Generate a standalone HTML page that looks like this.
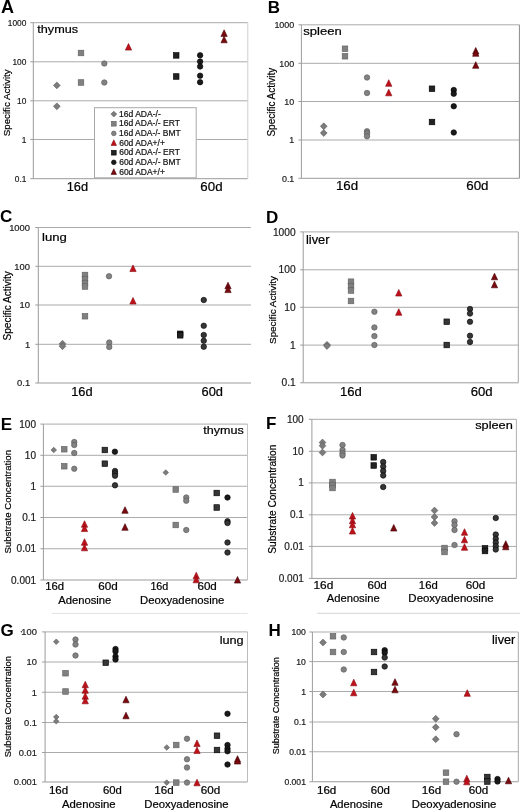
<!DOCTYPE html>
<html><head><meta charset="utf-8"><title>Figure</title>
<style>
html,body{margin:0;padding:0;background:#fff;}
body{width:520px;height:811px;overflow:hidden;}
svg{display:block;font-family:"Liberation Sans", sans-serif;filter:blur(0.3px);}
text{stroke-width:0.2px;}
</style></head><body>
<svg width="520" height="811" viewBox="0 0 520 811">
<rect width="520" height="811" fill="#fff"/>
<text transform="translate(0.93,12.70) scale(1.000,1)" font-size="18" font-weight="bold" fill="#000">A</text>
<line x1="33.3" y1="22.7" x2="247.8" y2="22.7" stroke="#ababab" stroke-width="1"/>
<line x1="30.299999999999997" y1="22.7" x2="33.3" y2="22.7" stroke="#9c9c9c" stroke-width="1"/>
<line x1="33.3" y1="61.8" x2="247.8" y2="61.8" stroke="#ababab" stroke-width="1"/>
<line x1="30.299999999999997" y1="61.8" x2="33.3" y2="61.8" stroke="#9c9c9c" stroke-width="1"/>
<line x1="33.3" y1="100.8" x2="247.8" y2="100.8" stroke="#ababab" stroke-width="1"/>
<line x1="30.299999999999997" y1="100.8" x2="33.3" y2="100.8" stroke="#9c9c9c" stroke-width="1"/>
<line x1="33.3" y1="139.5" x2="247.8" y2="139.5" stroke="#ababab" stroke-width="1"/>
<line x1="30.299999999999997" y1="139.5" x2="33.3" y2="139.5" stroke="#9c9c9c" stroke-width="1"/>
<line x1="33.3" y1="178.7" x2="247.8" y2="178.7" stroke="#9c9c9c" stroke-width="1"/>
<line x1="30.299999999999997" y1="178.7" x2="33.3" y2="178.7" stroke="#9c9c9c" stroke-width="1"/>
<line x1="33.3" y1="22.7" x2="33.3" y2="178.7" stroke="#9c9c9c" stroke-width="1"/>
<line x1="247.8" y1="22.7" x2="247.8" y2="178.7" stroke="#cfcfcf" stroke-width="1"/>
<text transform="translate(7.80,25.99) scale(0.900,1)" font-size="9.3" fill="#1a1a1a" stroke="#1a1a1a">1000</text>
<text transform="translate(12.46,65.09) scale(0.900,1)" font-size="9.3" fill="#1a1a1a" stroke="#1a1a1a">100</text>
<text transform="translate(17.11,104.09) scale(0.900,1)" font-size="9.3" fill="#1a1a1a" stroke="#1a1a1a">10</text>
<text transform="translate(21.85,142.79) scale(0.900,1)" font-size="9.3" fill="#1a1a1a" stroke="#1a1a1a">1</text>
<text transform="translate(14.87,181.99) scale(0.900,1)" font-size="9.3" fill="#1a1a1a" stroke="#1a1a1a">0.1</text>
<text transform="translate(37.20,33.00) scale(1.095,1)" font-size="11.6" fill="#000" stroke="#000">thymus</text>
<text transform="translate(66.73,191.00) scale(1.034,1)" font-size="12.4" fill="#000" stroke="#000">16d</text>
<text transform="translate(200.33,191.00) scale(1.074,1)" font-size="12.4" fill="#000" stroke="#000">60d</text>
<text transform="translate(9.80,136.25) rotate(-90) scale(1.035,1)" font-size="9.4" fill="#000" stroke="#000">Specific Activity</text>
<polygon points="56.85,82.00 60.25,85.40 56.85,88.80 53.45,85.40" fill="#7c7c7c" stroke="#5a5a5a" stroke-width="0.6"/>
<polygon points="56.85,102.90 60.25,106.30 56.85,109.70 53.45,106.30" fill="#7c7c7c" stroke="#5a5a5a" stroke-width="0.6"/>
<rect x="78.20" y="50.20" width="5.60" height="5.60" fill="#808080" stroke="#5e5e5e" stroke-width="0.6"/>
<rect x="78.20" y="79.70" width="5.60" height="5.60" fill="#808080" stroke="#5e5e5e" stroke-width="0.6"/>
<circle cx="104.30" cy="63.50" r="2.75" fill="#828282" stroke="#565656" stroke-width="0.6"/>
<circle cx="104.30" cy="82.50" r="2.75" fill="#828282" stroke="#565656" stroke-width="0.6"/>
<polygon points="128.50,43.50 131.65,50.10 125.35,50.10" fill="#c0111b" stroke="#860a0f" stroke-width="0.6"/>
<rect x="173.40" y="52.60" width="5.60" height="5.60" fill="#222222" stroke="#000000" stroke-width="0.6"/>
<rect x="173.40" y="73.70" width="5.60" height="5.60" fill="#222222" stroke="#000000" stroke-width="0.6"/>
<circle cx="200.10" cy="55.30" r="2.75" fill="#1a1a1a" stroke="#000000" stroke-width="0.6"/>
<circle cx="200.10" cy="61.50" r="2.75" fill="#1a1a1a" stroke="#000000" stroke-width="0.6"/>
<circle cx="200.10" cy="66.50" r="2.75" fill="#1a1a1a" stroke="#000000" stroke-width="0.6"/>
<circle cx="200.10" cy="75.70" r="2.75" fill="#1a1a1a" stroke="#000000" stroke-width="0.6"/>
<circle cx="200.10" cy="82.20" r="2.75" fill="#1a1a1a" stroke="#000000" stroke-width="0.6"/>
<polygon points="224.10,29.80 227.25,36.40 220.95,36.40" fill="#7a0a10" stroke="#450004" stroke-width="0.6"/>
<polygon points="224.10,36.20 227.25,42.80 220.95,42.80" fill="#7a0a10" stroke="#450004" stroke-width="0.6"/>
<rect x="94.5" y="107.7" width="101.7" height="70.1" fill="#fff" stroke="#a8a8a8" stroke-width="1"/>
<polygon points="113.80,111.21 116.69,114.10 113.80,116.99 110.91,114.10" fill="#7c7c7c" stroke="#5a5a5a" stroke-width="0.6"/>
<text transform="translate(118.95,116.80) scale(0.997,1)" font-size="8.6" fill="#111" stroke="#111">16d ADA-/-</text>
<rect x="111.42" y="121.37" width="4.76" height="4.76" fill="#808080" stroke="#5e5e5e" stroke-width="0.6"/>
<text transform="translate(118.95,126.45) scale(0.993,1)" font-size="8.6" fill="#111" stroke="#111">16d ADA-/- ERT</text>
<circle cx="113.80" cy="133.40" r="2.34" fill="#828282" stroke="#565656" stroke-width="0.6"/>
<text transform="translate(118.95,136.10) scale(0.988,1)" font-size="8.6" fill="#111" stroke="#111">16d ADA-/- BMT</text>
<polygon points="113.80,139.82 116.48,145.43 111.12,145.43" fill="#c0111b" stroke="#860a0f" stroke-width="0.6"/>
<text transform="translate(119.18,145.75) scale(0.986,1)" font-size="8.6" fill="#111" stroke="#111">60d ADA+/+</text>
<rect x="111.42" y="150.32" width="4.76" height="4.76" fill="#222222" stroke="#000000" stroke-width="0.6"/>
<text transform="translate(119.17,155.40) scale(0.989,1)" font-size="8.6" fill="#111" stroke="#111">60d ADA-/- ERT</text>
<circle cx="113.80" cy="162.35" r="2.34" fill="#1a1a1a" stroke="#000000" stroke-width="0.6"/>
<text transform="translate(119.18,165.05) scale(0.984,1)" font-size="8.6" fill="#111" stroke="#111">60d ADA-/- BMT</text>
<polygon points="113.80,168.77 116.48,174.38 111.12,174.38" fill="#7a0a10" stroke="#450004" stroke-width="0.6"/>
<text transform="translate(119.18,174.70) scale(0.986,1)" font-size="8.6" fill="#111" stroke="#111">60d ADA+/+</text>
<text transform="translate(267.78,12.75) scale(1.000,1)" font-size="17" font-weight="bold" fill="#000">B</text>
<line x1="301.4" y1="24.8" x2="519.4" y2="24.8" stroke="#ababab" stroke-width="1"/>
<line x1="298.4" y1="24.8" x2="301.4" y2="24.8" stroke="#9c9c9c" stroke-width="1"/>
<line x1="301.4" y1="63.3" x2="519.4" y2="63.3" stroke="#ababab" stroke-width="1"/>
<line x1="298.4" y1="63.3" x2="301.4" y2="63.3" stroke="#9c9c9c" stroke-width="1"/>
<line x1="301.4" y1="101.5" x2="519.4" y2="101.5" stroke="#ababab" stroke-width="1"/>
<line x1="298.4" y1="101.5" x2="301.4" y2="101.5" stroke="#9c9c9c" stroke-width="1"/>
<line x1="301.4" y1="140.0" x2="519.4" y2="140.0" stroke="#ababab" stroke-width="1"/>
<line x1="298.4" y1="140.0" x2="301.4" y2="140.0" stroke="#9c9c9c" stroke-width="1"/>
<line x1="301.4" y1="178.3" x2="519.4" y2="178.3" stroke="#9c9c9c" stroke-width="1"/>
<line x1="298.4" y1="178.3" x2="301.4" y2="178.3" stroke="#9c9c9c" stroke-width="1"/>
<line x1="301.4" y1="24.8" x2="301.4" y2="178.3" stroke="#9c9c9c" stroke-width="1"/>
<line x1="519.4" y1="24.8" x2="519.4" y2="178.3" stroke="#8a8a8a" stroke-width="1"/>
<text transform="translate(274.38,28.13) scale(0.950,1)" font-size="9.4" fill="#1a1a1a" stroke="#1a1a1a">1000</text>
<text transform="translate(279.34,66.63) scale(0.950,1)" font-size="9.4" fill="#1a1a1a" stroke="#1a1a1a">100</text>
<text transform="translate(284.31,104.83) scale(0.950,1)" font-size="9.4" fill="#1a1a1a" stroke="#1a1a1a">10</text>
<text transform="translate(289.36,143.33) scale(0.950,1)" font-size="9.4" fill="#1a1a1a" stroke="#1a1a1a">1</text>
<text transform="translate(281.92,181.63) scale(0.950,1)" font-size="9.4" fill="#1a1a1a" stroke="#1a1a1a">0.1</text>
<text transform="translate(303.33,35.40) scale(1.188,1)" font-size="11" fill="#000" stroke="#000">spleen</text>
<text transform="translate(335.89,190.30) scale(1.077,1)" font-size="12.4" fill="#000" stroke="#000">16d</text>
<text transform="translate(466.23,190.30) scale(1.079,1)" font-size="12.4" fill="#000" stroke="#000">60d</text>
<text transform="translate(275.10,136.56) rotate(-90) scale(0.998,1)" font-size="10" fill="#000" stroke="#000">Specific Activity</text>
<rect x="342.20" y="45.95" width="5.60" height="5.60" fill="#808080" stroke="#5e5e5e" stroke-width="0.6"/>
<rect x="342.20" y="53.45" width="5.60" height="5.60" fill="#808080" stroke="#5e5e5e" stroke-width="0.6"/>
<circle cx="367.00" cy="77.50" r="2.75" fill="#828282" stroke="#565656" stroke-width="0.6"/>
<circle cx="367.00" cy="93.00" r="2.75" fill="#828282" stroke="#565656" stroke-width="0.6"/>
<circle cx="367.00" cy="131.25" r="2.75" fill="#828282" stroke="#565656" stroke-width="0.6"/>
<circle cx="367.00" cy="133.25" r="2.75" fill="#828282" stroke="#565656" stroke-width="0.6"/>
<circle cx="367.00" cy="136.25" r="2.75" fill="#828282" stroke="#565656" stroke-width="0.6"/>
<polygon points="388.75,79.70 391.90,86.30 385.60,86.30" fill="#c0111b" stroke="#860a0f" stroke-width="0.6"/>
<polygon points="388.75,89.20 391.90,95.80 385.60,95.80" fill="#c0111b" stroke="#860a0f" stroke-width="0.6"/>
<polygon points="323.75,122.85 327.15,126.25 323.75,129.65 320.35,126.25" fill="#7c7c7c" stroke="#5a5a5a" stroke-width="0.6"/>
<polygon points="323.75,129.60 327.15,133.00 323.75,136.40 320.35,133.00" fill="#7c7c7c" stroke="#5a5a5a" stroke-width="0.6"/>
<rect x="429.20" y="85.95" width="5.60" height="5.60" fill="#222222" stroke="#000000" stroke-width="0.6"/>
<rect x="429.20" y="119.20" width="5.60" height="5.60" fill="#222222" stroke="#000000" stroke-width="0.6"/>
<circle cx="453.75" cy="90.00" r="2.75" fill="#1a1a1a" stroke="#000000" stroke-width="0.6"/>
<circle cx="453.75" cy="93.75" r="2.75" fill="#1a1a1a" stroke="#000000" stroke-width="0.6"/>
<circle cx="453.75" cy="106.25" r="2.75" fill="#1a1a1a" stroke="#000000" stroke-width="0.6"/>
<circle cx="453.75" cy="132.50" r="2.75" fill="#1a1a1a" stroke="#000000" stroke-width="0.6"/>
<polygon points="475.75,47.50 478.90,54.10 472.60,54.10" fill="#7a0a10" stroke="#450004" stroke-width="0.6"/>
<polygon points="475.75,49.70 478.90,56.30 472.60,56.30" fill="#7a0a10" stroke="#450004" stroke-width="0.6"/>
<polygon points="475.75,61.70 478.90,68.30 472.60,68.30" fill="#7a0a10" stroke="#450004" stroke-width="0.6"/>
<text transform="translate(0.09,222.00) scale(1.000,1)" font-size="17" font-weight="bold" fill="#000">C</text>
<line x1="38.3" y1="227.5" x2="251.0" y2="227.5" stroke="#ababab" stroke-width="1"/>
<line x1="35.3" y1="227.5" x2="38.3" y2="227.5" stroke="#9c9c9c" stroke-width="1"/>
<line x1="38.3" y1="266.3" x2="251.0" y2="266.3" stroke="#ababab" stroke-width="1"/>
<line x1="35.3" y1="266.3" x2="38.3" y2="266.3" stroke="#9c9c9c" stroke-width="1"/>
<line x1="38.3" y1="305.0" x2="251.0" y2="305.0" stroke="#ababab" stroke-width="1"/>
<line x1="35.3" y1="305.0" x2="38.3" y2="305.0" stroke="#9c9c9c" stroke-width="1"/>
<line x1="38.3" y1="344.3" x2="251.0" y2="344.3" stroke="#ababab" stroke-width="1"/>
<line x1="35.3" y1="344.3" x2="38.3" y2="344.3" stroke="#9c9c9c" stroke-width="1"/>
<line x1="38.3" y1="383.0" x2="251.0" y2="383.0" stroke="#9c9c9c" stroke-width="1"/>
<line x1="35.3" y1="383.0" x2="38.3" y2="383.0" stroke="#9c9c9c" stroke-width="1"/>
<line x1="38.3" y1="227.5" x2="38.3" y2="383.0" stroke="#9c9c9c" stroke-width="1"/>
<text transform="translate(9.13,230.93) scale(0.970,1)" font-size="9.7" fill="#1a1a1a" stroke="#1a1a1a">1000</text>
<text transform="translate(14.36,269.73) scale(0.970,1)" font-size="9.7" fill="#1a1a1a" stroke="#1a1a1a">100</text>
<text transform="translate(19.59,308.43) scale(0.970,1)" font-size="9.7" fill="#1a1a1a" stroke="#1a1a1a">10</text>
<text transform="translate(24.92,347.73) scale(0.970,1)" font-size="9.7" fill="#1a1a1a" stroke="#1a1a1a">1</text>
<text transform="translate(17.07,386.43) scale(0.970,1)" font-size="9.7" fill="#1a1a1a" stroke="#1a1a1a">0.1</text>
<text transform="translate(42.11,240.70) scale(1.133,1)" font-size="11.6" fill="#000" stroke="#000">lung</text>
<text transform="translate(71.23,396.20) scale(1.034,1)" font-size="12.4" fill="#000" stroke="#000">16d</text>
<text transform="translate(201.56,396.20) scale(1.038,1)" font-size="12.4" fill="#000" stroke="#000">60d</text>
<text transform="translate(10.60,340.46) rotate(-90) scale(1.007,1)" font-size="10" fill="#000" stroke="#000">Specific Activity</text>
<rect x="82.20" y="272.20" width="5.60" height="5.60" fill="#808080" stroke="#5e5e5e" stroke-width="0.6"/>
<rect x="82.20" y="276.20" width="5.60" height="5.60" fill="#808080" stroke="#5e5e5e" stroke-width="0.6"/>
<rect x="82.20" y="280.20" width="5.60" height="5.60" fill="#808080" stroke="#5e5e5e" stroke-width="0.6"/>
<rect x="82.20" y="283.70" width="5.60" height="5.60" fill="#808080" stroke="#5e5e5e" stroke-width="0.6"/>
<rect x="82.20" y="313.45" width="5.60" height="5.60" fill="#808080" stroke="#5e5e5e" stroke-width="0.6"/>
<circle cx="109.00" cy="276.25" r="2.75" fill="#828282" stroke="#565656" stroke-width="0.6"/>
<circle cx="109.25" cy="342.50" r="2.75" fill="#828282" stroke="#565656" stroke-width="0.6"/>
<circle cx="109.25" cy="347.00" r="2.75" fill="#828282" stroke="#565656" stroke-width="0.6"/>
<polygon points="62.50,340.35 65.90,343.75 62.50,347.15 59.10,343.75" fill="#7c7c7c" stroke="#5a5a5a" stroke-width="0.6"/>
<polygon points="62.50,342.85 65.90,346.25 62.50,349.65 59.10,346.25" fill="#7c7c7c" stroke="#5a5a5a" stroke-width="0.6"/>
<polygon points="133.00,264.95 136.15,271.55 129.85,271.55" fill="#c0111b" stroke="#860a0f" stroke-width="0.6"/>
<polygon points="133.00,297.45 136.15,304.05 129.85,304.05" fill="#c0111b" stroke="#860a0f" stroke-width="0.6"/>
<polygon points="228.00,282.20 231.15,288.80 224.85,288.80" fill="#7a0a10" stroke="#450004" stroke-width="0.6"/>
<polygon points="228.00,286.00 231.15,292.60 224.85,292.60" fill="#7a0a10" stroke="#450004" stroke-width="0.6"/>
<circle cx="203.75" cy="300.00" r="2.75" fill="#363636" stroke="#000000" stroke-width="0.6"/>
<circle cx="203.75" cy="325.75" r="2.75" fill="#363636" stroke="#000000" stroke-width="0.6"/>
<circle cx="203.75" cy="335.00" r="2.75" fill="#363636" stroke="#000000" stroke-width="0.6"/>
<circle cx="203.75" cy="340.75" r="2.75" fill="#363636" stroke="#000000" stroke-width="0.6"/>
<circle cx="203.75" cy="346.75" r="2.75" fill="#363636" stroke="#000000" stroke-width="0.6"/>
<rect x="177.40" y="331.00" width="5.60" height="5.60" fill="#222222" stroke="#000000" stroke-width="0.6"/>
<rect x="177.40" y="332.50" width="5.60" height="5.60" fill="#222222" stroke="#000000" stroke-width="0.6"/>
<text transform="translate(266.08,223.30) scale(1.000,1)" font-size="17" font-weight="bold" fill="#000">D</text>
<line x1="303.2" y1="231.9" x2="518.3" y2="231.9" stroke="#ababab" stroke-width="1"/>
<line x1="300.2" y1="231.9" x2="303.2" y2="231.9" stroke="#9c9c9c" stroke-width="1"/>
<line x1="303.2" y1="269.8" x2="518.3" y2="269.8" stroke="#ababab" stroke-width="1"/>
<line x1="300.2" y1="269.8" x2="303.2" y2="269.8" stroke="#9c9c9c" stroke-width="1"/>
<line x1="303.2" y1="307.3" x2="518.3" y2="307.3" stroke="#ababab" stroke-width="1"/>
<line x1="300.2" y1="307.3" x2="303.2" y2="307.3" stroke="#9c9c9c" stroke-width="1"/>
<line x1="303.2" y1="345.1" x2="518.3" y2="345.1" stroke="#ababab" stroke-width="1"/>
<line x1="300.2" y1="345.1" x2="303.2" y2="345.1" stroke="#9c9c9c" stroke-width="1"/>
<line x1="303.2" y1="382.8" x2="518.3" y2="382.8" stroke="#9c9c9c" stroke-width="1"/>
<line x1="300.2" y1="382.8" x2="303.2" y2="382.8" stroke="#9c9c9c" stroke-width="1"/>
<line x1="303.2" y1="231.9" x2="303.2" y2="382.8" stroke="#9c9c9c" stroke-width="1"/>
<line x1="518.3" y1="231.9" x2="518.3" y2="382.8" stroke="#a4a4a4" stroke-width="1"/>
<text transform="translate(272.90,235.51) scale(1.000,1)" font-size="10.2" fill="#1a1a1a" stroke="#1a1a1a">1000</text>
<text transform="translate(278.57,273.41) scale(1.000,1)" font-size="10.2" fill="#1a1a1a" stroke="#1a1a1a">100</text>
<text transform="translate(284.25,310.91) scale(1.000,1)" font-size="10.2" fill="#1a1a1a" stroke="#1a1a1a">10</text>
<text transform="translate(290.02,348.71) scale(1.000,1)" font-size="10.2" fill="#1a1a1a" stroke="#1a1a1a">1</text>
<text transform="translate(281.51,386.41) scale(1.000,1)" font-size="10.2" fill="#1a1a1a" stroke="#1a1a1a">0.1</text>
<text transform="translate(305.92,244.30) scale(1.073,1)" font-size="12" fill="#000" stroke="#000">liver</text>
<text transform="translate(340.01,395.80) scale(1.056,1)" font-size="12.4" fill="#000" stroke="#000">16d</text>
<text transform="translate(470.74,395.80) scale(1.059,1)" font-size="12.4" fill="#000" stroke="#000">60d</text>
<text transform="translate(275.90,343.95) rotate(-90) scale(1.008,1)" font-size="9.8" fill="#000" stroke="#000">Specific Activity</text>
<rect x="348.20" y="278.90" width="5.60" height="5.60" fill="#808080" stroke="#5e5e5e" stroke-width="0.6"/>
<rect x="348.20" y="283.20" width="5.60" height="5.60" fill="#808080" stroke="#5e5e5e" stroke-width="0.6"/>
<rect x="348.20" y="287.70" width="5.60" height="5.60" fill="#808080" stroke="#5e5e5e" stroke-width="0.6"/>
<rect x="348.20" y="298.20" width="5.60" height="5.60" fill="#808080" stroke="#5e5e5e" stroke-width="0.6"/>
<polygon points="327.00,341.40 330.40,344.80 327.00,348.20 323.60,344.80" fill="#7c7c7c" stroke="#5a5a5a" stroke-width="0.6"/>
<polygon points="327.00,342.60 330.40,346.00 327.00,349.40 323.60,346.00" fill="#7c7c7c" stroke="#5a5a5a" stroke-width="0.6"/>
<circle cx="374.40" cy="311.75" r="2.75" fill="#828282" stroke="#565656" stroke-width="0.6"/>
<circle cx="374.40" cy="327.40" r="2.75" fill="#828282" stroke="#565656" stroke-width="0.6"/>
<circle cx="374.40" cy="336.10" r="2.75" fill="#828282" stroke="#565656" stroke-width="0.6"/>
<circle cx="374.40" cy="345.00" r="2.75" fill="#828282" stroke="#565656" stroke-width="0.6"/>
<polygon points="398.75,289.45 401.90,296.05 395.60,296.05" fill="#c0111b" stroke="#860a0f" stroke-width="0.6"/>
<polygon points="398.75,308.70 401.90,315.30 395.60,315.30" fill="#c0111b" stroke="#860a0f" stroke-width="0.6"/>
<polygon points="494.50,273.20 497.65,279.80 491.35,279.80" fill="#7a0a10" stroke="#450004" stroke-width="0.6"/>
<polygon points="494.50,281.20 497.65,287.80 491.35,287.80" fill="#7a0a10" stroke="#450004" stroke-width="0.6"/>
<circle cx="470.00" cy="309.00" r="2.75" fill="#363636" stroke="#000000" stroke-width="0.6"/>
<circle cx="470.00" cy="313.50" r="2.75" fill="#363636" stroke="#000000" stroke-width="0.6"/>
<circle cx="470.00" cy="321.75" r="2.75" fill="#363636" stroke="#000000" stroke-width="0.6"/>
<circle cx="470.00" cy="335.75" r="2.75" fill="#363636" stroke="#000000" stroke-width="0.6"/>
<circle cx="470.00" cy="342.00" r="2.75" fill="#363636" stroke="#000000" stroke-width="0.6"/>
<rect x="443.95" y="318.95" width="5.60" height="5.60" fill="#363636" stroke="#000000" stroke-width="0.6"/>
<rect x="443.95" y="342.20" width="5.60" height="5.60" fill="#363636" stroke="#000000" stroke-width="0.6"/>
<text transform="translate(0.68,429.50) scale(1.000,1)" font-size="17" font-weight="bold" fill="#000">E</text>
<line x1="43.4" y1="424.1" x2="247.5" y2="424.1" stroke="#ababab" stroke-width="1"/>
<line x1="40.4" y1="424.1" x2="43.4" y2="424.1" stroke="#9c9c9c" stroke-width="1"/>
<line x1="43.4" y1="455.3" x2="247.5" y2="455.3" stroke="#ababab" stroke-width="1"/>
<line x1="40.4" y1="455.3" x2="43.4" y2="455.3" stroke="#9c9c9c" stroke-width="1"/>
<line x1="43.4" y1="486.25" x2="247.5" y2="486.25" stroke="#ababab" stroke-width="1"/>
<line x1="40.4" y1="486.25" x2="43.4" y2="486.25" stroke="#9c9c9c" stroke-width="1"/>
<line x1="43.4" y1="517.5" x2="247.5" y2="517.5" stroke="#ababab" stroke-width="1"/>
<line x1="40.4" y1="517.5" x2="43.4" y2="517.5" stroke="#9c9c9c" stroke-width="1"/>
<line x1="43.4" y1="548.75" x2="247.5" y2="548.75" stroke="#ababab" stroke-width="1"/>
<line x1="40.4" y1="548.75" x2="43.4" y2="548.75" stroke="#9c9c9c" stroke-width="1"/>
<line x1="43.4" y1="580.0" x2="247.5" y2="580.0" stroke="#9c9c9c" stroke-width="1"/>
<line x1="40.4" y1="580.0" x2="43.4" y2="580.0" stroke="#9c9c9c" stroke-width="1"/>
<line x1="43.4" y1="424.1" x2="43.4" y2="580.0" stroke="#9c9c9c" stroke-width="1"/>
<line x1="247.5" y1="424.1" x2="247.5" y2="580.0" stroke="#c4c4c4" stroke-width="1"/>
<text transform="translate(19.30,427.64) scale(1.000,1)" font-size="10.0" fill="#1a1a1a" stroke="#1a1a1a">100</text>
<text transform="translate(24.86,458.84) scale(1.000,1)" font-size="10.0" fill="#1a1a1a" stroke="#1a1a1a">10</text>
<text transform="translate(30.52,489.79) scale(1.000,1)" font-size="10.0" fill="#1a1a1a" stroke="#1a1a1a">1</text>
<text transform="translate(22.18,521.04) scale(1.000,1)" font-size="10.0" fill="#1a1a1a" stroke="#1a1a1a">0.1</text>
<text transform="translate(16.62,552.29) scale(1.000,1)" font-size="10.0" fill="#1a1a1a" stroke="#1a1a1a">0.01</text>
<text transform="translate(11.06,583.54) scale(1.000,1)" font-size="10.0" fill="#1a1a1a" stroke="#1a1a1a">0.001</text>
<text transform="translate(203.30,434.30) scale(1.123,1)" font-size="11.2" fill="#000" stroke="#000">thymus</text>
<text transform="translate(45.24,590.30) scale(1.078,1)" font-size="10.5" fill="#000" stroke="#000">16d</text>
<text transform="translate(98.21,590.30) scale(1.115,1)" font-size="10.5" fill="#000" stroke="#000">60d</text>
<text transform="translate(150.38,590.30) scale(1.028,1)" font-size="10.5" fill="#000" stroke="#000">16d</text>
<text transform="translate(197.42,590.30) scale(1.109,1)" font-size="10.5" fill="#000" stroke="#000">60d</text>
<text transform="translate(58.18,603.80) scale(1.033,1)" font-size="10.9" fill="#000" stroke="#000">Adenosine</text>
<text transform="translate(139.97,603.80) scale(1.040,1)" font-size="10.9" fill="#000" stroke="#000">Deoxyadenosine</text>
<text transform="translate(10.50,553.54) rotate(-90) scale(1.002,1)" font-size="9.6" fill="#000" stroke="#000">Substrate Concentration</text>
<polygon points="53.75,447.21 56.54,450.00 53.75,452.79 50.96,450.00" fill="#7c7c7c" stroke="#5a5a5a" stroke-width="0.6"/>
<polygon points="165.75,469.71 168.54,472.50 165.75,475.29 162.96,472.50" fill="#7c7c7c" stroke="#5a5a5a" stroke-width="0.6"/>
<rect x="61.45" y="446.45" width="5.60" height="5.60" fill="#808080" stroke="#5e5e5e" stroke-width="0.6"/>
<rect x="61.45" y="463.45" width="5.60" height="5.60" fill="#808080" stroke="#5e5e5e" stroke-width="0.6"/>
<rect x="172.95" y="486.70" width="5.60" height="5.60" fill="#808080" stroke="#5e5e5e" stroke-width="0.6"/>
<rect x="172.95" y="522.20" width="5.60" height="5.60" fill="#808080" stroke="#5e5e5e" stroke-width="0.6"/>
<circle cx="74.25" cy="442.00" r="2.75" fill="#828282" stroke="#565656" stroke-width="0.6"/>
<circle cx="74.25" cy="445.00" r="2.75" fill="#828282" stroke="#565656" stroke-width="0.6"/>
<circle cx="74.25" cy="453.00" r="2.75" fill="#828282" stroke="#565656" stroke-width="0.6"/>
<circle cx="74.25" cy="468.75" r="2.75" fill="#828282" stroke="#565656" stroke-width="0.6"/>
<circle cx="186.25" cy="497.50" r="2.75" fill="#828282" stroke="#565656" stroke-width="0.6"/>
<circle cx="186.25" cy="500.75" r="2.75" fill="#828282" stroke="#565656" stroke-width="0.6"/>
<circle cx="186.25" cy="530.00" r="2.75" fill="#828282" stroke="#565656" stroke-width="0.6"/>
<rect x="102.05" y="447.20" width="5.60" height="5.60" fill="#363636" stroke="#000000" stroke-width="0.6"/>
<rect x="102.05" y="460.90" width="5.60" height="5.60" fill="#363636" stroke="#000000" stroke-width="0.6"/>
<rect x="213.95" y="490.20" width="5.60" height="5.60" fill="#363636" stroke="#000000" stroke-width="0.6"/>
<rect x="213.95" y="504.70" width="5.60" height="5.60" fill="#363636" stroke="#000000" stroke-width="0.6"/>
<circle cx="114.90" cy="451.70" r="2.75" fill="#1a1a1a" stroke="#000000" stroke-width="0.6"/>
<circle cx="227.50" cy="497.50" r="2.75" fill="#1a1a1a" stroke="#000000" stroke-width="0.6"/>
<circle cx="115.00" cy="471.00" r="2.75" fill="#363636" stroke="#000000" stroke-width="0.6"/>
<circle cx="115.00" cy="473.30" r="2.75" fill="#363636" stroke="#000000" stroke-width="0.6"/>
<circle cx="115.00" cy="475.70" r="2.75" fill="#363636" stroke="#000000" stroke-width="0.6"/>
<circle cx="115.00" cy="485.30" r="2.75" fill="#363636" stroke="#000000" stroke-width="0.6"/>
<circle cx="227.50" cy="521.25" r="2.75" fill="#363636" stroke="#000000" stroke-width="0.6"/>
<circle cx="227.50" cy="523.00" r="2.75" fill="#363636" stroke="#000000" stroke-width="0.6"/>
<circle cx="227.50" cy="542.50" r="2.75" fill="#363636" stroke="#000000" stroke-width="0.6"/>
<circle cx="227.50" cy="552.50" r="2.75" fill="#363636" stroke="#000000" stroke-width="0.6"/>
<polygon points="84.50,520.70 87.65,527.30 81.35,527.30" fill="#c0111b" stroke="#860a0f" stroke-width="0.6"/>
<polygon points="84.50,524.95 87.65,531.55 81.35,531.55" fill="#c0111b" stroke="#860a0f" stroke-width="0.6"/>
<polygon points="84.50,538.70 87.65,545.30 81.35,545.30" fill="#c0111b" stroke="#860a0f" stroke-width="0.6"/>
<polygon points="84.50,544.20 87.65,550.80 81.35,550.80" fill="#c0111b" stroke="#860a0f" stroke-width="0.6"/>
<polygon points="196.25,572.20 199.40,578.80 193.10,578.80" fill="#c0111b" stroke="#860a0f" stroke-width="0.6"/>
<polygon points="196.25,576.20 199.40,582.80 193.10,582.80" fill="#c0111b" stroke="#860a0f" stroke-width="0.6"/>
<polygon points="125.00,506.70 128.15,513.30 121.85,513.30" fill="#7a0a10" stroke="#450004" stroke-width="0.6"/>
<polygon points="125.00,523.70 128.15,530.30 121.85,530.30" fill="#7a0a10" stroke="#450004" stroke-width="0.6"/>
<polygon points="237.50,576.50 240.65,583.10 234.35,583.10" fill="#7a0a10" stroke="#450004" stroke-width="0.6"/>
<text transform="translate(266.08,428.50) scale(1.000,1)" font-size="17" font-weight="bold" fill="#000">F</text>
<line x1="311.9" y1="419.3" x2="516.4" y2="419.3" stroke="#ababab" stroke-width="1"/>
<line x1="308.9" y1="419.3" x2="311.9" y2="419.3" stroke="#9c9c9c" stroke-width="1"/>
<line x1="311.9" y1="451.3" x2="516.4" y2="451.3" stroke="#ababab" stroke-width="1"/>
<line x1="308.9" y1="451.3" x2="311.9" y2="451.3" stroke="#9c9c9c" stroke-width="1"/>
<line x1="311.9" y1="482.9" x2="516.4" y2="482.9" stroke="#ababab" stroke-width="1"/>
<line x1="308.9" y1="482.9" x2="311.9" y2="482.9" stroke="#9c9c9c" stroke-width="1"/>
<line x1="311.9" y1="514.8" x2="516.4" y2="514.8" stroke="#ababab" stroke-width="1"/>
<line x1="308.9" y1="514.8" x2="311.9" y2="514.8" stroke="#9c9c9c" stroke-width="1"/>
<line x1="311.9" y1="546.4" x2="516.4" y2="546.4" stroke="#ababab" stroke-width="1"/>
<line x1="308.9" y1="546.4" x2="311.9" y2="546.4" stroke="#9c9c9c" stroke-width="1"/>
<line x1="311.9" y1="578.4" x2="516.4" y2="578.4" stroke="#9c9c9c" stroke-width="1"/>
<line x1="308.9" y1="578.4" x2="311.9" y2="578.4" stroke="#9c9c9c" stroke-width="1"/>
<line x1="311.9" y1="419.3" x2="311.9" y2="578.4" stroke="#9c9c9c" stroke-width="1"/>
<line x1="516.4" y1="419.3" x2="516.4" y2="578.4" stroke="#b0b0b0" stroke-width="1"/>
<text transform="translate(287.00,422.84) scale(1.000,1)" font-size="10.0" fill="#1a1a1a" stroke="#1a1a1a">100</text>
<text transform="translate(292.56,454.84) scale(1.000,1)" font-size="10.0" fill="#1a1a1a" stroke="#1a1a1a">10</text>
<text transform="translate(298.22,486.44) scale(1.000,1)" font-size="10.0" fill="#1a1a1a" stroke="#1a1a1a">1</text>
<text transform="translate(289.88,518.34) scale(1.000,1)" font-size="10.0" fill="#1a1a1a" stroke="#1a1a1a">0.1</text>
<text transform="translate(284.32,549.94) scale(1.000,1)" font-size="10.0" fill="#1a1a1a" stroke="#1a1a1a">0.01</text>
<text transform="translate(278.76,581.94) scale(1.000,1)" font-size="10.0" fill="#1a1a1a" stroke="#1a1a1a">0.001</text>
<text transform="translate(475.14,429.10) scale(1.163,1)" font-size="11" fill="#000" stroke="#000">spleen</text>
<text transform="translate(313.39,588.60) scale(1.134,1)" font-size="10.5" fill="#000" stroke="#000">16d</text>
<text transform="translate(367.42,588.60) scale(1.109,1)" font-size="10.5" fill="#000" stroke="#000">60d</text>
<text transform="translate(418.84,588.60) scale(1.078,1)" font-size="10.5" fill="#000" stroke="#000">16d</text>
<text transform="translate(465.81,588.60) scale(1.115,1)" font-size="10.5" fill="#000" stroke="#000">60d</text>
<text transform="translate(326.78,602.10) scale(1.027,1)" font-size="10.9" fill="#000" stroke="#000">Adenosine</text>
<text transform="translate(408.36,602.10) scale(1.051,1)" font-size="10.9" fill="#000" stroke="#000">Deoxyadenosine</text>
<text transform="translate(276.40,553.67) rotate(-90) scale(1.012,1)" font-size="10" fill="#000" stroke="#000">Substrate Concentration</text>
<polygon points="322.50,439.10 325.90,442.50 322.50,445.90 319.10,442.50" fill="#7c7c7c" stroke="#5a5a5a" stroke-width="0.6"/>
<polygon points="322.50,442.35 325.90,445.75 322.50,449.15 319.10,445.75" fill="#7c7c7c" stroke="#5a5a5a" stroke-width="0.6"/>
<polygon points="322.50,449.10 325.90,452.50 322.50,455.90 319.10,452.50" fill="#7c7c7c" stroke="#5a5a5a" stroke-width="0.6"/>
<polygon points="434.50,507.10 437.90,510.50 434.50,513.90 431.10,510.50" fill="#7c7c7c" stroke="#5a5a5a" stroke-width="0.6"/>
<polygon points="434.50,513.60 437.90,517.00 434.50,520.40 431.10,517.00" fill="#7c7c7c" stroke="#5a5a5a" stroke-width="0.6"/>
<polygon points="434.50,519.60 437.90,523.00 434.50,526.40 431.10,523.00" fill="#7c7c7c" stroke="#5a5a5a" stroke-width="0.6"/>
<circle cx="342.50" cy="445.00" r="2.75" fill="#828282" stroke="#565656" stroke-width="0.6"/>
<circle cx="342.50" cy="450.00" r="2.75" fill="#828282" stroke="#565656" stroke-width="0.6"/>
<circle cx="342.50" cy="453.25" r="2.75" fill="#828282" stroke="#565656" stroke-width="0.6"/>
<circle cx="342.50" cy="455.50" r="2.75" fill="#828282" stroke="#565656" stroke-width="0.6"/>
<circle cx="454.50" cy="521.25" r="2.75" fill="#828282" stroke="#565656" stroke-width="0.6"/>
<circle cx="454.50" cy="525.00" r="2.75" fill="#828282" stroke="#565656" stroke-width="0.6"/>
<circle cx="454.50" cy="530.00" r="2.75" fill="#828282" stroke="#565656" stroke-width="0.6"/>
<circle cx="454.50" cy="545.00" r="2.75" fill="#828282" stroke="#565656" stroke-width="0.6"/>
<rect x="329.70" y="479.20" width="5.60" height="5.60" fill="#808080" stroke="#5e5e5e" stroke-width="0.6"/>
<rect x="329.70" y="482.20" width="5.60" height="5.60" fill="#808080" stroke="#5e5e5e" stroke-width="0.6"/>
<rect x="329.70" y="485.20" width="5.60" height="5.60" fill="#808080" stroke="#5e5e5e" stroke-width="0.6"/>
<rect x="441.70" y="545.20" width="5.60" height="5.60" fill="#808080" stroke="#5e5e5e" stroke-width="0.6"/>
<rect x="441.70" y="549.20" width="5.60" height="5.60" fill="#808080" stroke="#5e5e5e" stroke-width="0.6"/>
<rect x="370.95" y="454.50" width="5.60" height="5.60" fill="#222222" stroke="#000000" stroke-width="0.6"/>
<rect x="370.95" y="462.70" width="5.60" height="5.60" fill="#222222" stroke="#000000" stroke-width="0.6"/>
<rect x="482.20" y="545.50" width="5.60" height="5.60" fill="#222222" stroke="#000000" stroke-width="0.6"/>
<rect x="482.20" y="548.20" width="5.60" height="5.60" fill="#222222" stroke="#000000" stroke-width="0.6"/>
<circle cx="383.20" cy="462.00" r="2.75" fill="#363636" stroke="#000000" stroke-width="0.6"/>
<circle cx="383.20" cy="466.50" r="2.75" fill="#363636" stroke="#000000" stroke-width="0.6"/>
<circle cx="383.20" cy="471.00" r="2.75" fill="#363636" stroke="#000000" stroke-width="0.6"/>
<circle cx="383.20" cy="475.50" r="2.75" fill="#363636" stroke="#000000" stroke-width="0.6"/>
<circle cx="383.20" cy="487.00" r="2.75" fill="#363636" stroke="#000000" stroke-width="0.6"/>
<circle cx="495.75" cy="518.00" r="2.75" fill="#363636" stroke="#000000" stroke-width="0.6"/>
<circle cx="495.75" cy="534.50" r="2.75" fill="#363636" stroke="#000000" stroke-width="0.6"/>
<circle cx="495.75" cy="538.75" r="2.75" fill="#363636" stroke="#000000" stroke-width="0.6"/>
<circle cx="495.75" cy="542.50" r="2.75" fill="#363636" stroke="#000000" stroke-width="0.6"/>
<circle cx="495.75" cy="546.25" r="2.75" fill="#363636" stroke="#000000" stroke-width="0.6"/>
<circle cx="495.75" cy="549.50" r="2.75" fill="#363636" stroke="#000000" stroke-width="0.6"/>
<polygon points="352.50,512.45 355.65,519.05 349.35,519.05" fill="#c0111b" stroke="#860a0f" stroke-width="0.6"/>
<polygon points="352.50,517.20 355.65,523.80 349.35,523.80" fill="#c0111b" stroke="#860a0f" stroke-width="0.6"/>
<polygon points="352.50,521.20 355.65,527.80 349.35,527.80" fill="#c0111b" stroke="#860a0f" stroke-width="0.6"/>
<polygon points="352.50,527.45 355.65,534.05 349.35,534.05" fill="#c0111b" stroke="#860a0f" stroke-width="0.6"/>
<polygon points="464.50,528.70 467.65,535.30 461.35,535.30" fill="#c0111b" stroke="#860a0f" stroke-width="0.6"/>
<polygon points="464.50,536.20 467.65,542.80 461.35,542.80" fill="#c0111b" stroke="#860a0f" stroke-width="0.6"/>
<polygon points="464.50,543.70 467.65,550.30 461.35,550.30" fill="#c0111b" stroke="#860a0f" stroke-width="0.6"/>
<polygon points="393.75,524.45 396.90,531.05 390.60,531.05" fill="#7a0a10" stroke="#450004" stroke-width="0.6"/>
<polygon points="505.75,540.70 508.90,547.30 502.60,547.30" fill="#7a0a10" stroke="#450004" stroke-width="0.6"/>
<polygon points="505.75,543.20 508.90,549.80 502.60,549.80" fill="#7a0a10" stroke="#450004" stroke-width="0.6"/>
<line x1="52" y1="613.4" x2="247.7" y2="613.4" stroke="#e2e2e2" stroke-width="1"/>
<line x1="317.3" y1="613.3" x2="520" y2="613.3" stroke="#d4d4d4" stroke-width="1"/>
<text transform="translate(0.59,636.20) scale(1.000,1)" font-size="17" font-weight="bold" fill="#000">G</text>
<line x1="45.1" y1="631.9" x2="247.5" y2="631.9" stroke="#ababab" stroke-width="1"/>
<line x1="42.1" y1="631.9" x2="45.1" y2="631.9" stroke="#9c9c9c" stroke-width="1"/>
<line x1="45.1" y1="662.0" x2="247.5" y2="662.0" stroke="#ababab" stroke-width="1"/>
<line x1="42.1" y1="662.0" x2="45.1" y2="662.0" stroke="#9c9c9c" stroke-width="1"/>
<line x1="45.1" y1="692.25" x2="247.5" y2="692.25" stroke="#ababab" stroke-width="1"/>
<line x1="42.1" y1="692.25" x2="45.1" y2="692.25" stroke="#9c9c9c" stroke-width="1"/>
<line x1="45.1" y1="722.5" x2="247.5" y2="722.5" stroke="#ababab" stroke-width="1"/>
<line x1="42.1" y1="722.5" x2="45.1" y2="722.5" stroke="#9c9c9c" stroke-width="1"/>
<line x1="45.1" y1="752.5" x2="247.5" y2="752.5" stroke="#ababab" stroke-width="1"/>
<line x1="42.1" y1="752.5" x2="45.1" y2="752.5" stroke="#9c9c9c" stroke-width="1"/>
<line x1="45.1" y1="782.0" x2="247.5" y2="782.0" stroke="#9c9c9c" stroke-width="1"/>
<line x1="42.1" y1="782.0" x2="45.1" y2="782.0" stroke="#9c9c9c" stroke-width="1"/>
<line x1="45.1" y1="631.9" x2="45.1" y2="782.0" stroke="#9c9c9c" stroke-width="1"/>
<line x1="247.5" y1="631.9" x2="247.5" y2="782.0" stroke="#bcbcbc" stroke-width="1"/>
<text transform="translate(21.34,635.19) scale(1.000,1)" font-size="9.3" fill="#1a1a1a" stroke="#1a1a1a">100</text>
<text transform="translate(26.51,665.29) scale(1.000,1)" font-size="9.3" fill="#1a1a1a" stroke="#1a1a1a">10</text>
<text transform="translate(31.78,695.54) scale(1.000,1)" font-size="9.3" fill="#1a1a1a" stroke="#1a1a1a">1</text>
<text transform="translate(24.02,725.79) scale(1.000,1)" font-size="9.3" fill="#1a1a1a" stroke="#1a1a1a">0.1</text>
<text transform="translate(18.85,755.79) scale(1.000,1)" font-size="9.3" fill="#1a1a1a" stroke="#1a1a1a">0.01</text>
<text transform="translate(13.68,785.29) scale(1.000,1)" font-size="9.3" fill="#1a1a1a" stroke="#1a1a1a">0.001</text>
<circle cx="21.4" cy="631.8" r="0.8" fill="#333"/>
<text transform="translate(219.64,644.10) scale(1.133,1)" font-size="11.2" fill="#000" stroke="#000">lung</text>
<text transform="translate(48.92,794.40) scale(1.103,1)" font-size="10.5" fill="#000" stroke="#000">16d</text>
<text transform="translate(102.93,794.40) scale(1.079,1)" font-size="10.5" fill="#000" stroke="#000">60d</text>
<text transform="translate(154.32,794.40) scale(1.103,1)" font-size="10.5" fill="#000" stroke="#000">16d</text>
<text transform="translate(200.81,794.40) scale(1.115,1)" font-size="10.5" fill="#000" stroke="#000">60d</text>
<text transform="translate(61.98,807.70) scale(1.041,1)" font-size="10.9" fill="#000" stroke="#000">Adenosine</text>
<text transform="translate(144.27,807.70) scale(1.040,1)" font-size="10.9" fill="#000" stroke="#000">Deoxyadenosine</text>
<text transform="translate(10.90,757.13) rotate(-90) scale(1.000,1)" font-size="9.4" fill="#000" stroke="#000">Substrate Concentration</text>
<polygon points="56.25,638.96 59.04,641.75 56.25,644.54 53.46,641.75" fill="#7c7c7c" stroke="#5a5a5a" stroke-width="0.6"/>
<polygon points="56.25,714.21 59.04,717.00 56.25,719.79 53.46,717.00" fill="#7c7c7c" stroke="#5a5a5a" stroke-width="0.6"/>
<polygon points="56.25,718.46 59.04,721.25 56.25,724.04 53.46,721.25" fill="#7c7c7c" stroke="#5a5a5a" stroke-width="0.6"/>
<polygon points="166.75,744.71 169.54,747.50 166.75,750.29 163.96,747.50" fill="#7c7c7c" stroke="#5a5a5a" stroke-width="0.6"/>
<polygon points="166.75,779.81 169.54,782.60 166.75,785.39 163.96,782.60" fill="#7c7c7c" stroke="#5a5a5a" stroke-width="0.6"/>
<rect x="62.70" y="670.45" width="5.60" height="5.60" fill="#808080" stroke="#5e5e5e" stroke-width="0.6"/>
<rect x="62.70" y="688.70" width="5.60" height="5.60" fill="#808080" stroke="#5e5e5e" stroke-width="0.6"/>
<rect x="173.45" y="742.20" width="5.60" height="5.60" fill="#808080" stroke="#5e5e5e" stroke-width="0.6"/>
<rect x="173.45" y="779.80" width="5.60" height="5.60" fill="#808080" stroke="#5e5e5e" stroke-width="0.6"/>
<circle cx="75.50" cy="639.50" r="2.75" fill="#828282" stroke="#565656" stroke-width="0.6"/>
<circle cx="75.50" cy="644.50" r="2.75" fill="#828282" stroke="#565656" stroke-width="0.6"/>
<circle cx="75.50" cy="655.50" r="2.75" fill="#828282" stroke="#565656" stroke-width="0.6"/>
<circle cx="187.00" cy="738.75" r="2.75" fill="#828282" stroke="#565656" stroke-width="0.6"/>
<circle cx="187.00" cy="759.25" r="2.75" fill="#828282" stroke="#565656" stroke-width="0.6"/>
<circle cx="187.00" cy="767.50" r="2.75" fill="#828282" stroke="#565656" stroke-width="0.6"/>
<circle cx="187.00" cy="782.60" r="2.75" fill="#828282" stroke="#565656" stroke-width="0.6"/>
<polygon points="85.25,681.20 88.40,687.80 82.10,687.80" fill="#c0111b" stroke="#860a0f" stroke-width="0.6"/>
<polygon points="85.25,686.70 88.40,693.30 82.10,693.30" fill="#c0111b" stroke="#860a0f" stroke-width="0.6"/>
<polygon points="85.25,692.70 88.40,699.30 82.10,699.30" fill="#c0111b" stroke="#860a0f" stroke-width="0.6"/>
<polygon points="85.25,697.20 88.40,703.80 82.10,703.80" fill="#c0111b" stroke="#860a0f" stroke-width="0.6"/>
<polygon points="197.00,739.95 200.15,746.55 193.85,746.55" fill="#c0111b" stroke="#860a0f" stroke-width="0.6"/>
<polygon points="197.00,746.95 200.15,753.55 193.85,753.55" fill="#c0111b" stroke="#860a0f" stroke-width="0.6"/>
<polygon points="197.00,779.20 200.15,785.80 193.85,785.80" fill="#c0111b" stroke="#860a0f" stroke-width="0.6"/>
<rect x="102.95" y="659.95" width="5.60" height="5.60" fill="#363636" stroke="#000000" stroke-width="0.6"/>
<rect x="214.20" y="732.95" width="5.60" height="5.60" fill="#363636" stroke="#000000" stroke-width="0.6"/>
<rect x="214.20" y="747.20" width="5.60" height="5.60" fill="#363636" stroke="#000000" stroke-width="0.6"/>
<circle cx="115.50" cy="649.00" r="2.75" fill="#1a1a1a" stroke="#000000" stroke-width="0.6"/>
<circle cx="115.50" cy="651.50" r="2.75" fill="#1a1a1a" stroke="#000000" stroke-width="0.6"/>
<circle cx="115.50" cy="656.50" r="2.75" fill="#1a1a1a" stroke="#000000" stroke-width="0.6"/>
<circle cx="115.50" cy="659.50" r="2.75" fill="#1a1a1a" stroke="#000000" stroke-width="0.6"/>
<circle cx="227.50" cy="713.75" r="2.75" fill="#1a1a1a" stroke="#000000" stroke-width="0.6"/>
<circle cx="227.50" cy="745.00" r="2.75" fill="#1a1a1a" stroke="#000000" stroke-width="0.6"/>
<circle cx="227.50" cy="748.75" r="2.75" fill="#1a1a1a" stroke="#000000" stroke-width="0.6"/>
<circle cx="227.50" cy="751.25" r="2.75" fill="#1a1a1a" stroke="#000000" stroke-width="0.6"/>
<circle cx="227.50" cy="764.50" r="2.75" fill="#1a1a1a" stroke="#000000" stroke-width="0.6"/>
<polygon points="126.00,696.20 129.15,702.80 122.85,702.80" fill="#7a0a10" stroke="#450004" stroke-width="0.6"/>
<polygon points="126.00,712.20 129.15,718.80 122.85,718.80" fill="#7a0a10" stroke="#450004" stroke-width="0.6"/>
<polygon points="237.50,755.70 240.65,762.30 234.35,762.30" fill="#7a0a10" stroke="#450004" stroke-width="0.6"/>
<polygon points="237.50,757.45 240.65,764.05 234.35,764.05" fill="#7a0a10" stroke="#450004" stroke-width="0.6"/>
<text transform="translate(268.58,636.30) scale(1.000,1)" font-size="17" font-weight="bold" fill="#000">H</text>
<line x1="312.4" y1="632.0" x2="518.3" y2="632.0" stroke="#ababab" stroke-width="1"/>
<line x1="309.4" y1="632.0" x2="312.4" y2="632.0" stroke="#9c9c9c" stroke-width="1"/>
<line x1="312.4" y1="661.6" x2="518.3" y2="661.6" stroke="#ababab" stroke-width="1"/>
<line x1="309.4" y1="661.6" x2="312.4" y2="661.6" stroke="#9c9c9c" stroke-width="1"/>
<line x1="312.4" y1="691.5" x2="518.3" y2="691.5" stroke="#ababab" stroke-width="1"/>
<line x1="309.4" y1="691.5" x2="312.4" y2="691.5" stroke="#9c9c9c" stroke-width="1"/>
<line x1="312.4" y1="722.0" x2="518.3" y2="722.0" stroke="#ababab" stroke-width="1"/>
<line x1="309.4" y1="722.0" x2="312.4" y2="722.0" stroke="#9c9c9c" stroke-width="1"/>
<line x1="312.4" y1="751.75" x2="518.3" y2="751.75" stroke="#ababab" stroke-width="1"/>
<line x1="309.4" y1="751.75" x2="312.4" y2="751.75" stroke="#9c9c9c" stroke-width="1"/>
<line x1="312.4" y1="781.75" x2="518.3" y2="781.75" stroke="#9c9c9c" stroke-width="1"/>
<line x1="309.4" y1="781.75" x2="312.4" y2="781.75" stroke="#9c9c9c" stroke-width="1"/>
<line x1="312.4" y1="632.0" x2="312.4" y2="781.75" stroke="#9c9c9c" stroke-width="1"/>
<line x1="518.3" y1="632.0" x2="518.3" y2="781.75" stroke="#a8a8a8" stroke-width="1"/>
<text transform="translate(291.48,635.04) scale(1.000,1)" font-size="8.6" fill="#1a1a1a" stroke="#1a1a1a">100</text>
<text transform="translate(296.26,664.64) scale(1.000,1)" font-size="8.6" fill="#1a1a1a" stroke="#1a1a1a">10</text>
<text transform="translate(301.13,694.54) scale(1.000,1)" font-size="8.6" fill="#1a1a1a" stroke="#1a1a1a">1</text>
<text transform="translate(293.96,725.04) scale(1.000,1)" font-size="8.6" fill="#1a1a1a" stroke="#1a1a1a">0.1</text>
<text transform="translate(289.18,754.79) scale(1.000,1)" font-size="8.6" fill="#1a1a1a" stroke="#1a1a1a">0.01</text>
<text transform="translate(284.40,784.79) scale(1.000,1)" font-size="8.6" fill="#1a1a1a" stroke="#1a1a1a">0.001</text>
<text transform="translate(492.04,644.10) scale(1.058,1)" font-size="12" fill="#000" stroke="#000">liver</text>
<text transform="translate(316.91,794.40) scale(1.109,1)" font-size="10.5" fill="#000" stroke="#000">16d</text>
<text transform="translate(370.83,794.40) scale(1.091,1)" font-size="10.5" fill="#000" stroke="#000">60d</text>
<text transform="translate(421.81,794.40) scale(1.109,1)" font-size="10.5" fill="#000" stroke="#000">16d</text>
<text transform="translate(468.81,794.40) scale(1.115,1)" font-size="10.5" fill="#000" stroke="#000">60d</text>
<text transform="translate(329.88,807.70) scale(1.027,1)" font-size="10.9" fill="#000" stroke="#000">Adenosine</text>
<text transform="translate(411.87,807.70) scale(1.041,1)" font-size="10.9" fill="#000" stroke="#000">Deoxyadenosine</text>
<text transform="translate(279.00,754.32) rotate(-90) scale(1.003,1)" font-size="9.0" fill="#000" stroke="#000">Substrate Concentration</text>
<polygon points="323.00,639.10 326.40,642.50 323.00,645.90 319.60,642.50" fill="#7c7c7c" stroke="#5a5a5a" stroke-width="0.6"/>
<polygon points="323.00,691.10 326.40,694.50 323.00,697.90 319.60,694.50" fill="#7c7c7c" stroke="#5a5a5a" stroke-width="0.6"/>
<polygon points="435.75,715.35 439.15,718.75 435.75,722.15 432.35,718.75" fill="#7c7c7c" stroke="#5a5a5a" stroke-width="0.6"/>
<polygon points="435.75,723.85 439.15,727.25 435.75,730.65 432.35,727.25" fill="#7c7c7c" stroke="#5a5a5a" stroke-width="0.6"/>
<polygon points="435.75,735.85 439.15,739.25 435.75,742.65 432.35,739.25" fill="#7c7c7c" stroke="#5a5a5a" stroke-width="0.6"/>
<rect x="330.20" y="633.45" width="5.60" height="5.60" fill="#808080" stroke="#5e5e5e" stroke-width="0.6"/>
<rect x="330.20" y="649.20" width="5.60" height="5.60" fill="#808080" stroke="#5e5e5e" stroke-width="0.6"/>
<rect x="443.20" y="769.90" width="5.60" height="5.60" fill="#808080" stroke="#5e5e5e" stroke-width="0.6"/>
<rect x="443.20" y="778.90" width="5.60" height="5.60" fill="#808080" stroke="#5e5e5e" stroke-width="0.6"/>
<circle cx="343.75" cy="637.50" r="2.75" fill="#828282" stroke="#565656" stroke-width="0.6"/>
<circle cx="343.75" cy="652.00" r="2.75" fill="#828282" stroke="#565656" stroke-width="0.6"/>
<circle cx="343.75" cy="669.50" r="2.75" fill="#828282" stroke="#565656" stroke-width="0.6"/>
<circle cx="456.50" cy="734.20" r="2.75" fill="#828282" stroke="#565656" stroke-width="0.6"/>
<circle cx="456.50" cy="781.70" r="2.75" fill="#828282" stroke="#565656" stroke-width="0.6"/>
<polygon points="353.75,679.20 356.90,685.80 350.60,685.80" fill="#c0111b" stroke="#860a0f" stroke-width="0.6"/>
<polygon points="353.75,689.20 356.90,695.80 350.60,695.80" fill="#c0111b" stroke="#860a0f" stroke-width="0.6"/>
<polygon points="467.25,689.70 470.40,696.30 464.10,696.30" fill="#c0111b" stroke="#860a0f" stroke-width="0.6"/>
<polygon points="466.80,775.20 469.95,781.80 463.65,781.80" fill="#c0111b" stroke="#860a0f" stroke-width="0.6"/>
<polygon points="466.80,778.20 469.95,784.80 463.65,784.80" fill="#c0111b" stroke="#860a0f" stroke-width="0.6"/>
<rect x="371.20" y="649.20" width="5.60" height="5.60" fill="#363636" stroke="#000000" stroke-width="0.6"/>
<rect x="371.20" y="669.20" width="5.60" height="5.60" fill="#363636" stroke="#000000" stroke-width="0.6"/>
<rect x="484.50" y="774.20" width="5.60" height="5.60" fill="#363636" stroke="#000000" stroke-width="0.6"/>
<rect x="484.50" y="778.70" width="5.60" height="5.60" fill="#363636" stroke="#000000" stroke-width="0.6"/>
<circle cx="384.70" cy="650.20" r="2.75" fill="#1a1a1a" stroke="#000000" stroke-width="0.6"/>
<circle cx="384.70" cy="652.70" r="2.75" fill="#1a1a1a" stroke="#000000" stroke-width="0.6"/>
<circle cx="497.50" cy="779.00" r="2.75" fill="#1a1a1a" stroke="#000000" stroke-width="0.6"/>
<circle cx="497.50" cy="781.50" r="2.75" fill="#1a1a1a" stroke="#000000" stroke-width="0.6"/>
<circle cx="384.70" cy="657.50" r="2.75" fill="#363636" stroke="#000000" stroke-width="0.6"/>
<circle cx="384.70" cy="666.50" r="2.75" fill="#363636" stroke="#000000" stroke-width="0.6"/>
<polygon points="395.00,678.70 398.15,685.30 391.85,685.30" fill="#7a0a10" stroke="#450004" stroke-width="0.6"/>
<polygon points="395.00,686.20 398.15,692.80 391.85,692.80" fill="#7a0a10" stroke="#450004" stroke-width="0.6"/>
<polygon points="508.50,777.20 511.65,783.80 505.35,783.80" fill="#7a0a10" stroke="#450004" stroke-width="0.6"/>
</svg>
</body></html>
